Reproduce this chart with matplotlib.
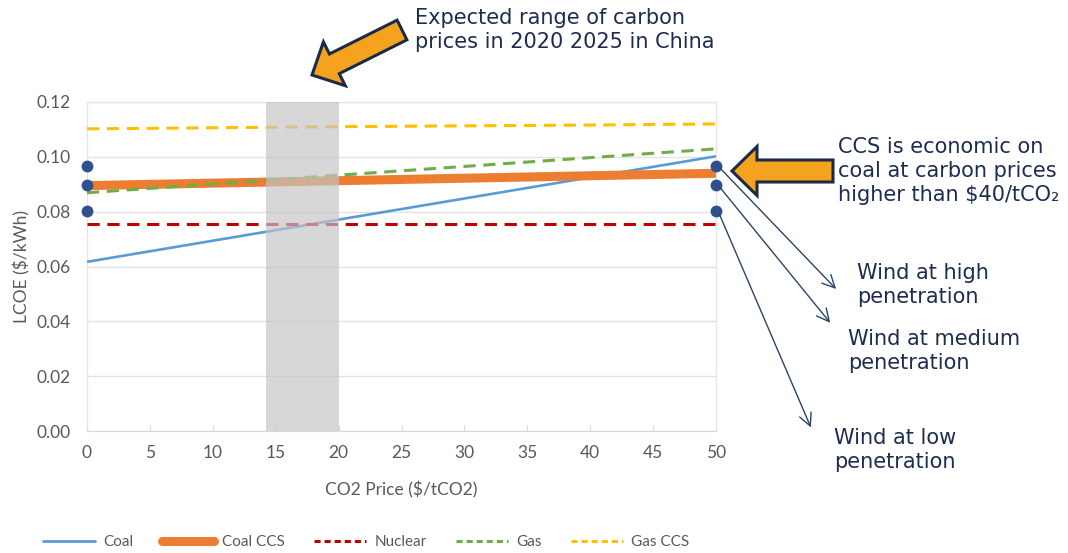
import matplotlib
matplotlib.use("Agg")
import matplotlib.pyplot as plt
import matplotlib.transforms as mtransforms
from matplotlib.patches import FancyArrow, FancyArrowPatch
from matplotlib.lines import Line2D

# ---------------- data ----------------
co2_price = [0, 10, 20, 30, 40, 50]
coal = [0.0617, 0.0694, 0.0771, 0.0848, 0.0925, 0.1002]
coal_ccs = [0.0895, 0.0904, 0.0913, 0.0922, 0.0931, 0.0940]
nuclear = [0.0755, 0.0755, 0.0755, 0.0755, 0.0755, 0.0755]
gas = [0.0869, 0.0901, 0.0933, 0.0965, 0.0997, 0.1029]
gas_ccs = [0.1102, 0.1106, 0.1110, 0.1113, 0.1116, 0.1120]
wind_costs = [0.0967, 0.0897, 0.0804]  # high, medium, low penetration
wind_x = [0, 50]
range_lo, range_hi = 14.2, 20.0
x_ticks = list(range(0, 55, 5))
y_ticks = [0.00, 0.02, 0.04, 0.06, 0.08, 0.10, 0.12]
series_names = ["Coal", "Coal CCS", "Nuclear", "Gas", "Gas CCS"]

W, H = 1068, 553
fig = plt.figure(figsize=(W / 100, H / 100), dpi=100)
ax = fig.add_axes([87 / W, 1 - 431 / H, (716 - 87) / W, (431 - 102) / H])

tick_font = "Lato"
grey = "#595959"
navy = "#1d2d52"

ax.plot(co2_price, coal, color="#5b9bd5", lw=1.9, label=series_names[0], zorder=3, solid_capstyle="butt")
ax.plot(co2_price, coal_ccs, color="#ed7d31", lw=6.5, label=series_names[1], zorder=3, solid_capstyle="butt")
ax.plot(co2_price, nuclear, color="#c00000", lw=2.2, ls=(0, (4, 2.5)), label=series_names[2], zorder=3)
ax.plot(co2_price, gas, color="#70ad47", lw=2.2, ls=(0, (4, 2.5)), label=series_names[3], zorder=3)
ax.plot(co2_price, gas_ccs, color="#ffc000", lw=2.2, ls=(0, (4, 2.5)), label=series_names[4], zorder=3)

ax.axvspan(range_lo, range_hi, ymin=0, ymax=1, color="#c4c4c4", alpha=0.68, lw=0, zorder=4)

for x in wind_x:
    ax.plot([x] * len(wind_costs), wind_costs, "o", color="#2f4f8f", ms=7.5, zorder=6, clip_on=False)

ax.set_xlim(0, 50)
ax.set_ylim(0, 0.12)
ax.set_xticks(x_ticks)
ax.set_yticks(y_ticks)
ax.set_yticklabels([f"{v:.2f}" for v in y_ticks])
ax.grid(axis="y", color="#e3e3e3", lw=1, zorder=0)
ax.set_axisbelow(True)
for s in ["left", "right", "top"]:
    ax.spines[s].set_color("#e6e6e6")
    ax.spines[s].set_linewidth(1)
ax.spines["bottom"].set_color("#d9d9d9")
ax.tick_params(axis="y", length=0, pad=12, labelsize=12.5, labelcolor=grey)
ax.tick_params(axis="x", direction="in", length=4, color="#d9d9d9", pad=10, labelsize=12.5, labelcolor=grey)
for lab in ax.get_xticklabels() + ax.get_yticklabels():
    lab.set_family(tick_font)
ax.set_xlabel("CO2 Price ($/tCO2)", fontsize=12.5, color=grey, family=tick_font, labelpad=15)
ax.set_ylabel("LCOE ($/kWh)", fontsize=12.5, color=grey, family=tick_font, labelpad=4)

# legend
handles = [
    Line2D([], [], color="#5b9bd5", lw=2, solid_capstyle="round"),
    Line2D([], [], color="#ed7d31", lw=6.5, solid_capstyle="round"),
    Line2D([], [], color="#c00000", lw=2.2, ls=(0, (2, 1.3))),
    Line2D([], [], color="#70ad47", lw=2.2, ls=(0, (2, 1.3))),
    Line2D([], [], color="#ffc000", lw=2.2, ls=(0, (2, 1.3))),
]
leg = fig.legend(handles, series_names, loc="center", bbox_to_anchor=(366 / W, 1 - 542 / H),
                 ncol=5, frameon=False, handlelength=3.4, handletextpad=0.55, columnspacing=1.9,
                 prop={"family": tick_font, "size": 11})
for t in leg.get_texts():
    t.set_color(grey)

# pixel transform (top-left origin)
px = mtransforms.Affine2D().scale(1, -1).translate(0, H)

def big_arrow(x0, y0, x1, y1):
    dx, dy = x1 - x0, y1 - y0
    arr = FancyArrow(x0, y0, dx, dy, width=22, head_width=49, head_length=25,
                     length_includes_head=True, transform=px, facecolor="#f5a21e",
                     edgecolor="#1b2a47", lw=2.2, zorder=10)
    fig.patches.append(arr)

big_arrow(402, 30, 312, 75)
big_arrow(833, 171, 732, 171)

# thin annotation arrows
for (x0, y0), (x1, y1) in [((718, 166), (838, 291)), ((718, 185), (832, 325)), ((718, 211), (812, 430))]:
    a = FancyArrowPatch((x0, y0), (x1, y1), transform=px, arrowstyle="->,head_length=6,head_width=3",
                        color="#2c4566", lw=1.0, zorder=10, mutation_scale=1.5)
    fig.patches.append(a)

txt_kw = dict(color=navy, fontsize=15, family="DejaVu Sans", transform=px, va="top", ha="left",
              linespacing=1.26)
fig.text(415, 8, "Expected range of carbon\nprices in 2020 2025 in China", **txt_kw)
fig.text(838, 137, "CCS is economic on\ncoal at carbon prices\nhigher than $40/tCO\u2082", **txt_kw)
fig.text(857, 263, "Wind at high\npenetration", **txt_kw)
fig.text(848, 329, "Wind at medium\npenetration", **txt_kw)
fig.text(834, 428, "Wind at low\npenetration", **txt_kw)

fig.savefig("out.png", dpi=100)
